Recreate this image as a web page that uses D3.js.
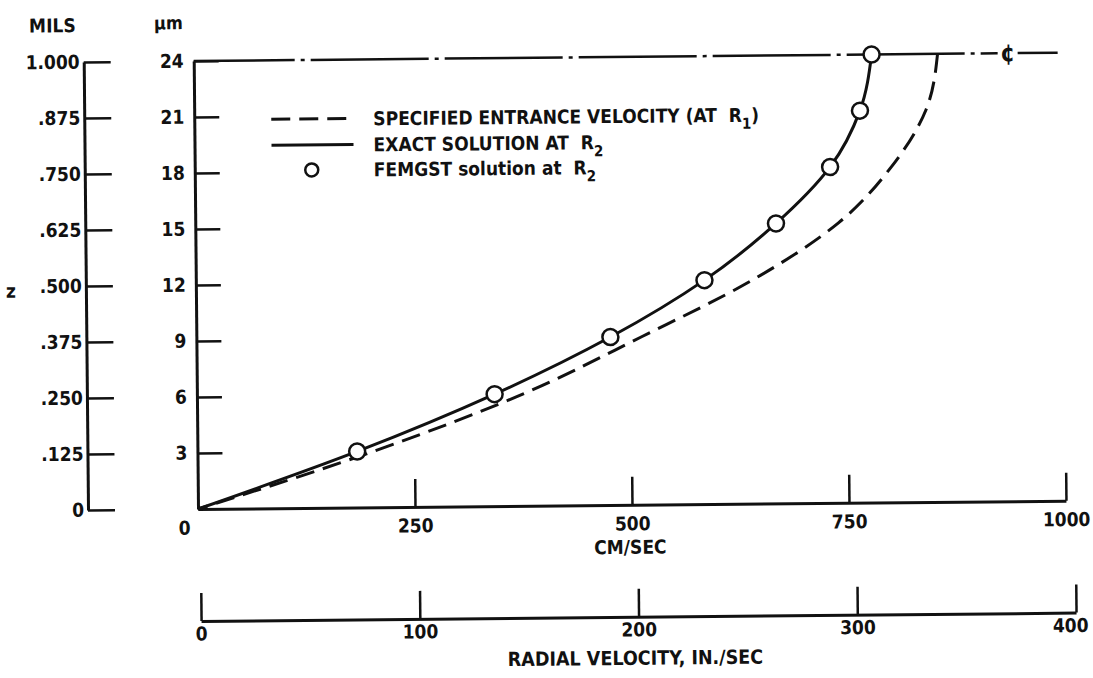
<!DOCTYPE html>
<html lang="en">
    <head>
        <meta charset="utf-8">
        <title>Radial velocity profile</title>
        <style type="text/css">
            body { margin: 0; background: #fff; }
            text { font-family: "DejaVu Sans Condensed", "DejaVu Sans", sans-serif; font-weight: bold; fill: #111; }
        </style>
    </head>
    <body>

<script src="https://d3js.org/d3.v7.min.js"></script>
<script>

    var w = 1093;
    var h = 678;

    // z positions (micrometres) and velocities (cm/sec)
    var zUm = [0, 3, 6, 9, 12, 15, 18, 21, 24];
    var exactVel = [0, 184, 343, 477, 586, 669, 732, 767, 781];
    var entranceVel = [0, 203, 376, 513, 642, 741, 803, 843, 857];
    var femgstZ = [3, 6, 9, 12, 15, 18, 21, 24];
    var femgstVel = [184, 343, 477, 586, 669, 732, 767, 781];

    var umTicks = [3, 6, 9, 12, 15, 18, 21, 24];
    var milsTicks = [0, 0.125, 0.25, 0.375, 0.5, 0.625, 0.75, 0.875, 1];
    var cmTicks = [0, 250, 500, 750, 1000];
    var inTicks = [0, 100, 200, 300, 400];

    var legendLabels = ["SPECIFIED ENTRANCE VELOCITY (AT  R", "EXACT SOLUTION AT  R", "FEMGST solution at  R"];
    var legendSubs = ["1", "2", "2"];

    var svg = d3.select("body")
            .append("svg")
            .attr("width", w)
            .attr("height", h);

    // the scanned figure is tilted a little
    var g = svg.append("g")
            .attr("transform", "rotate(-0.55, 198, 509)");

    var x = d3.scaleLinear().domain([0, 1000]).range([198, 1066]);
    var y = d3.scaleLinear().domain([0, 24]).range([509, 61]);
    var yMils = d3.scaleLinear().domain([0, 1]).range([509, 61]);
    var xIn = d3.scaleLinear().domain([0, 400]).range([200, 1075]);

    function styleAxis(sel, fs) {
        sel.select(".domain").attr("stroke", "#111").attr("stroke-width", 3);
        sel.selectAll(".tick line").attr("stroke", "#111").attr("stroke-width", 2.5);
        sel.selectAll(".tick text").attr("font-size", fs).attr("font-family", null);
    }

    // MILS axis
    var milsAxis = d3.axisLeft(yMils)
            .tickValues(milsTicks)
            .tickSize(-27)
            .tickSizeOuter(0)
            .tickPadding(4)
            .tickFormat(function(d) {
                if (d === 1) return "1.000";
                if (d === 0) return "0";
                return d3.format(".3f")(d).slice(1);
            });
    g.append("g")
        .attr("transform", "translate(88,0)")
        .call(milsAxis)
        .call(styleAxis, 19);

    // micrometre axis
    var umAxis = d3.axisLeft(y)
            .tickValues(umTicks)
            .tickSize(-25)
            .tickSizeOuter(0)
            .tickPadding(10);
    g.append("g")
        .attr("transform", "translate(198,0)")
        .call(umAxis)
        .call(styleAxis, 19);

    // cm/sec axis
    var cmAxis = d3.axisBottom(x)
            .tickValues(cmTicks)
            .tickSize(-28)
            .tickSizeOuter(0)
            .tickPadding(12)
            .tickFormat(d3.format("d"));
    var cmG = g.append("g")
        .attr("transform", "translate(0,509)")
        .call(cmAxis)
        .call(styleAxis, 19);
    cmG.selectAll(".tick").filter(function(d) { return d === 0; })
        .select("line").remove();
    cmG.selectAll(".tick").filter(function(d) { return d === 0; })
        .select("text").attr("dx", -14);

    // in./sec axis
    var inAxis = d3.axisBottom(xIn)
            .tickValues(inTicks)
            .tickSize(-28)
            .tickSizeOuter(0)
            .tickPadding(6);
    var inG = g.append("g")
        .attr("transform", "translate(0,621)")
        .call(inAxis)
        .call(styleAxis, 19);
    inG.selectAll(".tick").filter(function(d) { return d === 400; })
        .select("text").attr("dx", -6);

    // axis titles
    g.append("text").attr("x", 57).attr("y", 31).attr("text-anchor", "middle").attr("font-size", 19).text("MILS");
    g.append("text").attr("x", 173).attr("y", 29).attr("text-anchor", "middle").attr("font-size", 18).text("\u00b5m");
    g.append("text").attr("x", 13).attr("y", 296).attr("text-anchor", "middle").attr("font-size", 19).text("z");
    g.append("text").attr("x", 630).attr("y", 558).attr("text-anchor", "middle").attr("font-size", 19).text("CM/SEC");
    g.append("text").attr("x", 634).attr("y", 669).attr("text-anchor", "middle").attr("font-size", 19.5).text("RADIAL VELOCITY, IN./SEC");

    // centre line
    g.append("line")
        .attr("x1", x(0)).attr("x2", 1002)
        .attr("y1", y(24)).attr("y2", y(24))
        .attr("stroke", "#111").attr("stroke-width", 2.5)
        .attr("stroke-dasharray", "118,6,4,6")
        .attr("stroke-dashoffset", 17);
    g.append("line")
        .attr("x1", 1022).attr("x2", 1062)
        .attr("y1", y(24)).attr("y2", y(24))
        .attr("stroke", "#111").attr("stroke-width", 2.5);
    g.append("text").attr("x", 1012).attr("y", y(24) + 8).attr("text-anchor", "middle").attr("font-size", 24).text("\u00a2");

    // curves (x as a function of z)
    var line = d3.line()
            .x(function(d) { return x(d[0]); })
            .y(function(d) { return y(d[1]); })
            .curve(d3.curveMonotoneY);

    var entrancePts = [];
    var exactPts = [];
    for (var i = zUm.length - 1; i >= 0; i--) {
        entrancePts.push([entranceVel[i], zUm[i]]);
        exactPts.push([exactVel[i], zUm[i]]);
    }

    g.append("path")
        .attr("d", line(entrancePts))
        .attr("fill", "none")
        .attr("stroke", "#111")
        .attr("stroke-width", 3)
        .attr("stroke-dasharray", "19,9");

    g.append("path")
        .attr("d", line(exactPts))
        .attr("fill", "none")
        .attr("stroke", "#111")
        .attr("stroke-width", 3);

    g.selectAll("circle.pt")
        .data(femgstVel)
        .enter()
        .append("circle")
        .attr("class", "pt")
        .attr("cx", function(d) { return x(d); })
        .attr("cy", function(d, i) { return y(femgstZ[i]); })
        .attr("r", 8)
        .attr("fill", "#fff")
        .attr("stroke", "#111")
        .attr("stroke-width", 2.5);

    // legend
    var lg = g.append("g");
    var rows = [120, 146, 171];
    lg.append("line").attr("x1", 275).attr("x2", 357).attr("y1", rows[0]).attr("y2", rows[0])
        .attr("stroke", "#111").attr("stroke-width", 3).attr("stroke-dasharray", "19,9");
    lg.append("line").attr("x1", 275).attr("x2", 357).attr("y1", rows[1]).attr("y2", rows[1])
        .attr("stroke", "#111").attr("stroke-width", 3);
    lg.append("circle").attr("cx", 315).attr("cy", rows[2]).attr("r", 6.5)
        .attr("fill", "#fff").attr("stroke", "#111").attr("stroke-width", 2.5);

    for (var j = 0; j < legendLabels.length; j++) {
        var t = lg.append("text")
            .attr("x", 377)
            .attr("y", rows[j] + 7)
            .attr("font-size", 19)
            .attr("xml:space", "preserve")
            .style("white-space", "pre");
        t.append("tspan").text(legendLabels[j]);
        t.append("tspan").attr("dy", 7).attr("font-size", 15).text(legendSubs[j]);
        if (j === 0) t.append("tspan").attr("dy", -7).text(")");
    }

</script>

    </body>
</html>
